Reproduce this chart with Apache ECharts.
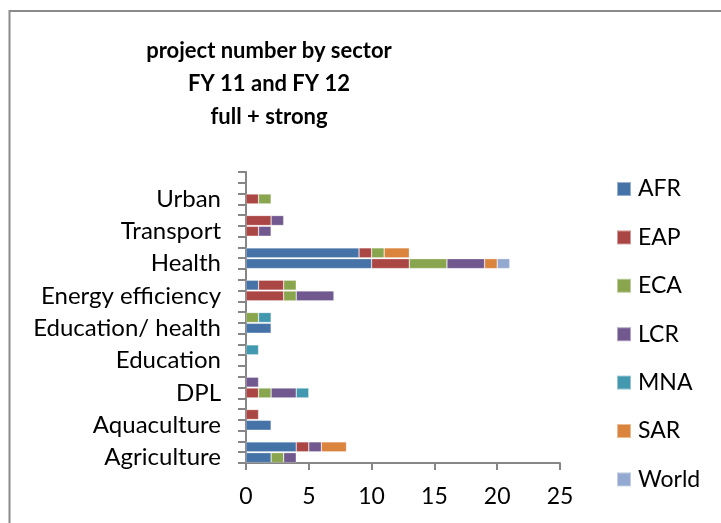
<!DOCTYPE html>
<html>
<head>
<meta charset="utf-8">
<script src="https://cdn.jsdelivr.net/npm/echarts@6/dist/echarts.min.js"></script>
<style>
  html, body { margin: 0; padding: 0; background: #fff; }
  #main { width: 721px; height: 523px; }
</style>
</head>
<body>
<div id="main"></div>
<script>
// sectors, bottom to top
var sectors = ['Agriculture', 'Aquaculture', 'DPL', 'Education', 'Education/ health',
    'Energy efficiency', 'Health', 'Transport', 'Urban'];
var regions = ['AFR', 'EAP', 'ECA', 'LCR', 'MNA', 'SAR', 'World'];
var colors = ['#4572A7', '#AA4643', '#89A54E', '#71588F', '#4198AF', '#DB843D', '#93A9CF'];

// lower bar of each pair (FY 11)
var afr11 = [2, 2, 0, 0, 2, 0, 10, 0, 0];
var eap11 = [0, 0, 1, 0, 0, 3, 3, 1, 1];
var eca11 = [1, 0, 1, 0, 0, 1, 3, 0, 1];
var lcr11 = [1, 0, 2, 0, 0, 3, 3, 1, 0];
var mna11 = [0, 0, 1, 0, 0, 0, 0, 0, 0];
var sar11 = [0, 0, 0, 0, 0, 0, 1, 0, 0];
var wld11 = [0, 0, 0, 0, 0, 0, 1, 0, 0];

// upper bar of each pair (FY 12)
var afr12 = [4, 0, 0, 0, 0, 1, 9, 0, 0];
var eap12 = [1, 1, 0, 0, 0, 2, 1, 2, 0];
var eca12 = [0, 0, 0, 0, 1, 1, 1, 0, 0];
var lcr12 = [1, 0, 1, 0, 0, 0, 0, 1, 0];
var mna12 = [0, 0, 0, 1, 1, 0, 0, 0, 0];
var sar12 = [2, 0, 0, 0, 0, 0, 2, 0, 0];
var wld12 = [0, 0, 0, 0, 0, 0, 0, 0, 0];

var xTicks = [0, 5, 10, 15, 20, 25];

var fy11 = [afr11, eap11, eca11, lcr11, mna11, sar11, wld11];
var fy12 = [afr12, eap12, eca12, lcr12, mna12, sar12, wld12];

// each sector takes 3 rows: FY11, FY12, empty
var rows = [];
var rowLabels = [];
sectors.forEach(function (s) {
    rows.push(s + '|11', s + '|12', s + '|gap');
    rowLabels.push(s, '', '');
});

function 行数据(i) {
    var out = [];
    for (var k = 0; k < sectors.length; k++) {
        out.push(fy11[i][k] || '-', fy12[i][k] || '-', '-');
    }
    return out;
}

var font = 'Lato, "Open Sans", sans-serif';

var series = regions.map(function (r, i) {
    return {
        name: r,
        type: 'bar',
        stack: 'all',
        barCategoryGap: '8%',
        itemStyle: { color: colors[i], borderColor: 'rgba(255,255,255,0.45)', borderWidth: 0.6 },
        data: 行数据(i)
    };
});

var myChart = echarts.init(document.getElementById('main'));
var option = {
    animation: false,
    color: colors,
    title: {
        text: 'project number by sector\nFY 11 and FY 12\nfull + strong',
        left: 269,
        top: 34,
        padding: 0,
        textAlign: 'center',
        textStyle: { fontFamily: font, fontWeight: 'bold', fontSize: 22, lineHeight: 33, color: '#000' }
    },
    legend: {
        orient: 'vertical',
        left: 616,
        top: 177,
        padding: 0,
        itemWidth: 14,
        itemHeight: 14,
        itemGap: 24.4,
        icon: 'rect',
        data: regions,
        textStyle: { fontFamily: font, fontSize: 23, lineHeight: 24, color: '#000', padding: [0, 0, 0, 2] }
    },
    grid: { left: 246, right: 161, top: 172, bottom: 60, outerBoundsMode: 'none' },
    xAxis: {
        type: 'value',
        min: 0,
        max: 25,
        interval: 5,
        splitLine: { show: false },
        axisLine: { show: true, lineStyle: { color: '#868686', width: 2 } },
        axisTick: { show: true, length: 7, lineStyle: { color: '#868686', width: 2 } },
        axisLabel: {
            margin: 22,
            fontFamily: font, fontSize: 23, color: '#000',
            formatter: function (v) { return xTicks.indexOf(v) >= 0 ? String(v) : ''; }
        }
    },
    yAxis: {
        type: 'category',
        data: rows,
        axisLine: { show: true, lineStyle: { color: '#868686', width: 2 } },
        axisTick: { show: true, interval: 0, length: 8, lineStyle: { color: '#868686', width: 2 } },
        axisLabel: {
            interval: 0,
            margin: 25,
            fontFamily: font, fontSize: 24, color: '#000',
            formatter: function (v, idx) { return rowLabels[idx]; }
        }
    },
    graphic: [{
        type: 'rect',
        shape: { x: 9.5, y: 11, width: 760, height: 560 },
        style: { fill: 'none', stroke: '#8a8a8a', lineWidth: 2 },
        silent: true
    }],
    series: series
};
option && myChart.setOption(option);
</script>
</body>
</html>
